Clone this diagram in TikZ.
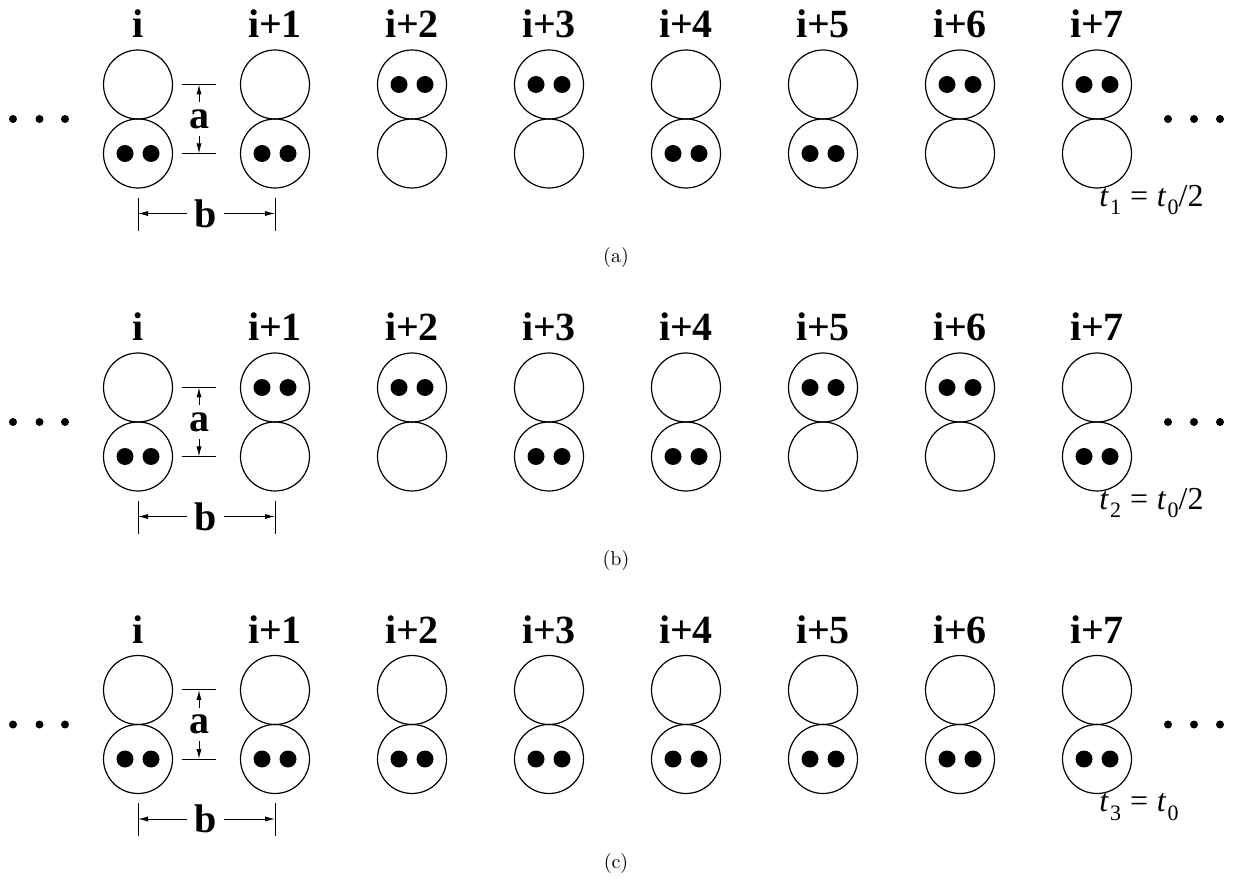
\documentclass[tikz,border=0pt]{standalone}
\usepackage{fontspec}
\setmainfont{Liberation Serif}
\usetikzlibrary{arrows.meta,positioning}

\tikzset{
  site/.style={circle,draw,line width=0.6pt,minimum size=34.5pt,inner sep=0pt},
  electron/.style={circle,fill=black,minimum size=8.5pt,inner sep=0pt},
  chaindot/.style={circle,fill=black,minimum size=4pt,inner sep=0pt},
  sitelabel/.style={font=\rmfamily\bfseries\fontsize{20}{24}\selectfont,anchor=base,inner sep=0pt},
  dimlabel/.style={font=\rmfamily\bfseries\fontsize{20}{24}\selectfont,inner sep=3.5pt},
  dimline/.style={line width=0.5pt},
  dimarrow/.style={line width=0.5pt,-{Latex[length=5pt,width=2.6pt]}},
  timelabel/.style={font=\rmfamily\fontsize{16}{19}\selectfont,anchor=base west,inner sep=0pt},
  caption/.style={font=\fontfamily{lmr}\fontsize{10}{12}\selectfont}
}

% hopping time with upright subscript
\newcommand{\tsym}[1]{\textit{t}\kern0.6pt\raisebox{-0.55ex}{\fontsize{11}{12}\selectfont #1}}

% one chain: #1 name, #2 y of upper row, #3 occupied row per site, #4 time, #5 caption
\newcommand{\drawchain}[5]{%
  \foreach \s [count=\k from 0] in {#3} {
    \node[site] (#1-up-\k) at ({138+137*\k},#2) {};
    \node[site] (#1-lo-\k) at ({138+137*\k},#2+69) {};
    \node[sitelabel] (#1-lab-\k) at ({138+137*\k},#2-46.5) {\ifnum\k=0 i\else i+\k\fi};
    \node[electron] at ([xshift=-6.5pt]#1-\s-\k) {};
    \node[electron] at ([xshift=6.5pt]#1-\s-\k) {};
  }
  % dots at both ends
  \foreach \x in {13,39.5,65} \node[chaindot] at (\x,#2+34.5) {};
  \foreach \x in {1168,1194,1220} \node[chaindot] at (\x,#2+34.5) {};
  % distance a
  \draw[dimline] ([xshift=4.25pt]#1-up-0.east) -- ++(34,0);
  \draw[dimline] ([xshift=4.25pt]#1-lo-0.east) -- ++(34,0);
  \node[dimlabel] (#1-a) at (199,#2+34.5) {a};
  \draw[dimarrow] (#1-a.north) -- (#1-a.north |- #1-up-0.center);
  \draw[dimarrow] (#1-a.south) -- (#1-a.south |- #1-lo-0.center);
  % distance b
  \draw[dimline] ([yshift=-4.5pt]#1-lo-0.south) -- ++(0,33);
  \draw[dimline] ([yshift=-4.5pt]#1-lo-1.south) -- ++(0,33);
  \node[dimlabel] (#1-b) at (205.5,#2+129) {b};
  \draw[dimarrow] (#1-b.west) -- (#1-b.west -| #1-lo-0.center);
  \draw[dimarrow] (#1-b.east) -- (#1-b.east -| #1-lo-1.center);
  \node[timelabel] (#1-time) at (1099,#2+122) {#4};
  \node[caption] (#1-cap) at (616,#2+173.5) {#5};
}

\begin{document}
\begin{tikzpicture}[x=0.5pt,y=-0.5pt]
  \useasboundingbox (0,0) rectangle (1239,882);
  \drawchain{pa}{84.5}{lo,lo,up,up,lo,lo,up,up}{\tsym{1}\;=\;\tsym{0}/2}{(a)}
  \drawchain{pb}{387.5}{lo,up,up,lo,lo,up,up,lo}{\tsym{2}\;=\;\tsym{0}/2}{(b)}
  \drawchain{pc}{690}{lo,lo,lo,lo,lo,lo,lo,lo}{\tsym{3}\;=\;\tsym{0}}{(c)}
\end{tikzpicture}
\end{document}
